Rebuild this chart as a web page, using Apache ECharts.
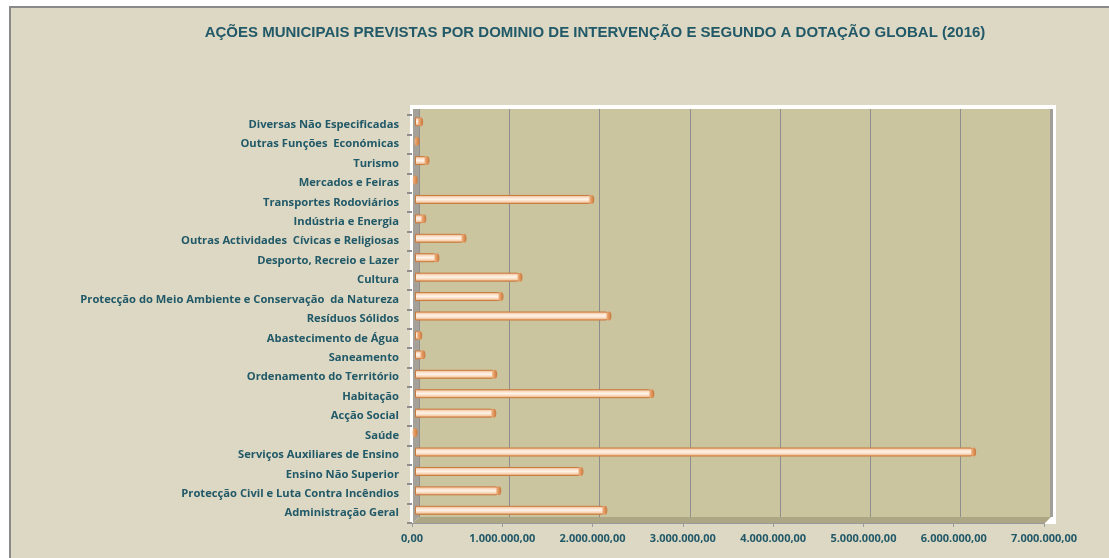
<!DOCTYPE html>
<html>
<head>
<meta charset="utf-8">
<script src="https://cdn.jsdelivr.net/npm/echarts@6/dist/echarts.min.js"></script>
<style>
  html, body { margin: 0; padding: 0; background: #ffffff; }
  #chart { width: 1109px; height: 558px; }
</style>
</head>
<body>
<div id="chart"></div>
<script>
// Domains of intervention, listed from the bottom of the axis upward
var categories = [
  'Administração Geral',
  'Protecção Civil e Luta Contra Incêndios',
  'Ensino Não Superior',
  'Serviços Auxiliares de Ensino',
  'Saúde',
  'Acção Social',
  'Habitação',
  'Ordenamento do Território',
  'Saneamento',
  'Abastecimento de Água',
  'Resíduos Sólidos',
  'Protecção do Meio Ambiente e Conservação  da Natureza',
  'Cultura',
  'Desporto, Recreio e Lazer',
  'Outras Actividades  Cívicas e Religiosas',
  'Indústria e Energia',
  'Transportes Rodoviários',
  'Mercados e Feiras',
  'Turismo',
  'Outras Funções  Económicas',
  'Diversas Não Especificadas'
];

// Global allocation per domain (euros)
var dotacao = [
  2105000, 930000, 1840000, 6190000, 3000, 875000, 2625000, 885000,
  90000, 55000, 2150000, 955000, 1165000, 245000, 545000, 100000,
  1960000, 5000, 135000, 25000, 65000
];

// Value axis range and step
var axisMin = 0;
var axisMax = 7000000;
var axisStep = 1000000;

var titleText = 'AÇÕES MUNICIPAIS PREVISTAS POR DOMINIO DE INTERVENÇÃO E SEGUNDO A DOTAÇÃO GLOBAL (2016)';

function fmtEuro(v) {
  return String(Math.round(v)).replace(/\B(?=(\d{3})+(?!\d))/g, '.') + ',00';
}

var ink = '#215968';
var labelFont = '"Open Sans", Lato, sans-serif';

var chart = echarts.init(document.getElementById('chart'), null, { renderer: 'canvas' });

var barFill = new echarts.graphic.LinearGradient(0, 0, 0, 1, [
  { offset: 0, color: '#e9a97a' },
  { offset: 0.28, color: '#fbe0c8' },
  { offset: 0.5, color: '#fff4ea' },
  { offset: 0.75, color: '#f8d3b2' },
  { offset: 1, color: '#dc925c' }
]);
var capFill = new echarts.graphic.LinearGradient(0, 0, 1, 0, [
  { offset: 0, color: '#f3b27e' },
  { offset: 1, color: '#c8763a' }
]);

var option = {
  backgroundColor: '#ffffff',
  animation: false,
  title: {
    text: titleText,
    left: 590,
    top: 20,
    textAlign: 'center',
    textStyle: {
      color: ink,
      fontFamily: '"Liberation Sans Narrow", "Liberation Sans", sans-serif',
      fontWeight: 'bold',
      fontSize: 15
    }
  },
  graphic: [
    { type: 'rect', z: -10, shape: { x: 10, y: 7, width: 1200, height: 700 },
      style: { fill: '#ddd8c3', stroke: '#8a8a8a', lineWidth: 2 } },
    { type: 'rect', z: -9, shape: { x: 410, y: 105, width: 646, height: 419 },
      style: { fill: '#ffffff' } },
    { type: 'polygon', z: 1, shape: { points: [[413, 109], [419, 109], [419, 517], [413, 523]] },
      style: { fill: '#a5a198' } },
    { type: 'polygon', z: 1, shape: { points: [[413, 523], [419, 517], [1051, 517], [1045, 523]] },
      style: { fill: '#aca684' } },
    { type: 'rect', z: 1, shape: { x: 1050, y: 109, width: 3, height: 408 },
      style: { fill: '#a09e98' } }
  ],
  grid: [
    // back wall with gridlines
    { left: 419, right: 58, top: 109, bottom: 41, show: true, backgroundColor: '#cbc59f', borderWidth: 0 },
    // bars
    { left: 415, right: 62, top: 112, bottom: 38 },
    // front axes
    { left: 412, right: 65, top: 115, bottom: 35 }
  ],
  xAxis: [
    { gridIndex: 0, type: 'value', min: axisMin, max: axisMax, interval: axisStep,
      axisLine: { show: false }, axisTick: { show: false }, axisLabel: { show: false },
      splitLine: { show: true, lineStyle: { color: '#8e8e8e', width: 1 } } },
    { gridIndex: 1, type: 'value', min: axisMin, max: axisMax, interval: axisStep, show: false },
    { gridIndex: 2, type: 'value', min: axisMin, max: axisMax, interval: axisStep,
      axisLine: { show: true, lineStyle: { color: '#9a9a9a', width: 1 } },
      axisTick: { show: true, length: 4, lineStyle: { color: '#9a9a9a' } },
      splitLine: { show: false },
      axisLabel: { color: ink, fontFamily: labelFont, fontWeight: 'bold', fontSize: 11, margin: 10,
        formatter: fmtEuro } }
  ],
  yAxis: [
    { gridIndex: 0, type: 'category', data: categories, show: false },
    { gridIndex: 1, type: 'category', data: categories, show: false },
    { gridIndex: 2, type: 'category', data: categories,
      axisLine: { show: false },
      axisTick: { show: true, length: 5, lineStyle: { color: '#8e8e8e', width: 2 } },
      axisLabel: { color: ink, fontFamily: labelFont, fontWeight: 'bold', fontSize: 11.2, margin: 13 } }
  ],
  series: [
    { type: 'bar', xAxisIndex: 1, yAxisIndex: 1, data: dotacao, barWidth: 9, z: 3,
      itemStyle: { color: barFill, borderColor: '#c9793d', borderWidth: 1, borderRadius: [0, 3, 3, 0] } },
    { type: 'pictorialBar', xAxisIndex: 1, yAxisIndex: 1, data: dotacao, z: 4,
      symbol: 'circle', symbolSize: [5, 9], symbolPosition: 'end', symbolOffset: ['50%', 0],
      itemStyle: { color: capFill, borderColor: '#b86a30', borderWidth: 0.6 } }
  ]
};

chart.setOption(option);
</script>
</body>
</html>
